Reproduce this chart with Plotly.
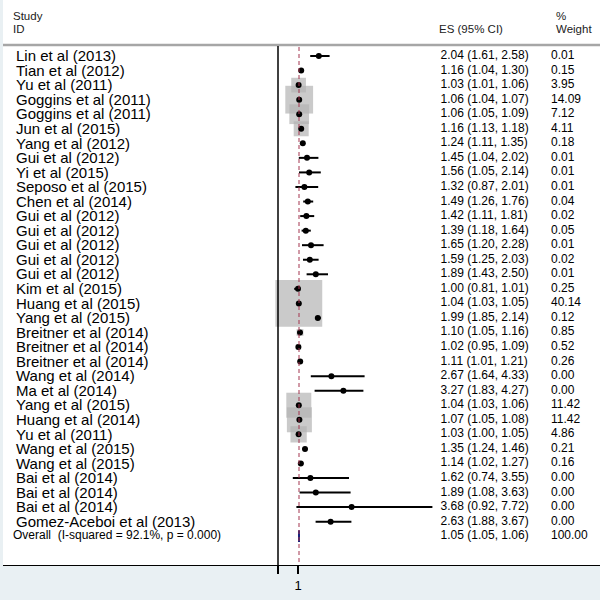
import plotly.graph_objects as go

studies = [
    "Lin et al (2013)", "Tian et al (2012)", "Yu et al (2011)", "Goggins et al (2011)",
    "Goggins et al (2011)", "Jun et al (2015)", "Yang et al (2012)", "Gui et al (2012)",
    "Yi et al (2015)", "Seposo et al (2015)", "Chen et al (2014)", "Gui et al (2012)",
    "Gui et al (2012)", "Gui et al (2012)", "Gui et al (2012)", "Gui et al (2012)",
    "Kim et al (2015)", "Huang et al (2015)", "Yang et al (2015)", "Breitner et al (2014)",
    "Breitner et al (2014)", "Breitner et al (2014)", "Wang et al (2014)", "Ma et al (2014)",
    "Yang et al (2015)", "Huang et al (2014)", "Yu et al (2011)", "Wang et al (2015)",
    "Wang et al (2015)", "Bai et al (2014)", "Bai et al (2014)", "Bai et al (2014)",
    "Gomez-Aceboi et al (2013)",
]
es = [2.04, 1.16, 1.03, 1.06, 1.06, 1.16, 1.24, 1.45, 1.56, 1.32, 1.49, 1.42, 1.39, 1.65,
      1.59, 1.89, 1.00, 1.04, 1.99, 1.10, 1.02, 1.11, 2.67, 3.27, 1.04, 1.07, 1.03, 1.35,
      1.14, 1.62, 1.89, 3.68, 2.63]
lower = [1.61, 1.04, 1.01, 1.04, 1.05, 1.13, 1.11, 1.04, 1.05, 0.87, 1.26, 1.11, 1.18, 1.20,
         1.25, 1.43, 0.81, 1.03, 1.85, 1.05, 0.95, 1.01, 1.64, 1.83, 1.03, 1.05, 1.00, 1.24,
         1.02, 0.74, 1.08, 0.92, 1.88]
upper = [2.58, 1.30, 1.06, 1.07, 1.09, 1.18, 1.35, 2.02, 2.14, 2.01, 1.76, 1.81, 1.64, 2.28,
         2.03, 2.50, 1.01, 1.05, 2.14, 1.16, 1.09, 1.21, 4.33, 4.27, 1.06, 1.08, 1.05, 1.46,
         1.27, 3.55, 3.63, 7.72, 3.67]
weights = [0.01, 0.15, 3.95, 14.09, 7.12, 4.11, 0.18, 0.01, 0.01, 0.01, 0.04, 0.02, 0.05, 0.01,
           0.02, 0.01, 0.25, 40.14, 0.12, 0.85, 0.52, 0.26, 0.00, 0.00, 11.42, 11.42, 4.86, 0.21,
           0.16, 0.00, 0.00, 0.00, 0.00]

overall_label = "Overall  (I-squared = 92.1%, p = 0.000)"
overall_es, overall_lo, overall_hi, overall_w = 1.05, 1.05, 1.06, 100.00

font = "Liberation Sans, Arial, sans-serif"
rows = list(range(len(studies)))
overall_row = len(studies)
x_range = [-13.75, 16.1]

fig = go.Figure()

# header rule
fig.add_trace(go.Scatter(
    x=x_range, y=[-0.76, -0.76], mode="lines",
    line=dict(color="#a6a6a6", width=2.5), hoverinfo="skip", showlegend=False,
    cliponaxis=False,
))

# weight boxes
fig.add_trace(go.Scatter(
    x=es, y=rows, mode="markers",
    marker=dict(symbol="square", size=[7.4 * w ** 0.5 for w in weights],
                color="#b3b3b3", line=dict(width=0)),
    hoverinfo="skip", showlegend=False,
))

# point estimates + CI
fig.add_trace(go.Scatter(
    x=es, y=rows, mode="markers",
    marker=dict(size=6, color="black"),
    error_x=dict(type="data", symmetric=False,
                 array=[u - e for u, e in zip(upper, es)],
                 arrayminus=[e - l for e, l in zip(es, lower)],
                 thickness=2, width=0, color="black"),
    showlegend=False,
))

# overall diamond
fig.add_trace(go.Scatter(
    x=[overall_lo, overall_es, overall_hi, overall_es, overall_lo],
    y=[overall_row, overall_row - 0.4, overall_row, overall_row + 0.4, overall_row],
    mode="lines", fill="toself", fillcolor="#1a237e",
    line=dict(color="#1a237e", width=2), showlegend=False, hoverinfo="skip",
))

# text columns
es_text = ["%.2f (%.2f, %.2f)" % t for t in zip(es, lower, upper)]
es_text.append("%.2f (%.2f, %.2f)" % (overall_es, overall_lo, overall_hi))
w_text = ["%.2f" % w for w in weights] + ["%.2f" % overall_w]

fig.add_trace(go.Scatter(
    x=[-13.1] * len(studies), y=[r + 0.1 for r in rows], mode="text", text=studies,
    textposition="middle right", textfont=dict(family=font, size=15, color="black"),
    cliponaxis=False, showlegend=False, hoverinfo="skip",
))
fig.add_trace(go.Scatter(
    x=[-13.25], y=[overall_row], mode="text", text=[overall_label],
    textposition="middle right", textfont=dict(family=font, size=12, color="black"),
    cliponaxis=False, showlegend=False, hoverinfo="skip",
))
fig.add_trace(go.Scatter(
    x=[8.13] * (len(studies) + 1), y=rows + [overall_row], mode="text", text=es_text,
    textposition="middle right", textfont=dict(family=font, size=12, color="black"),
    cliponaxis=False, showlegend=False, hoverinfo="skip",
))
fig.add_trace(go.Scatter(
    x=[13.65] * (len(studies) + 1), y=rows + [overall_row], mode="text", text=w_text,
    textposition="middle right", textfont=dict(family=font, size=12, color="black"),
    cliponaxis=False, showlegend=False, hoverinfo="skip",
))

# headers
headers = [("Study", -13.35, -2.75), ("ID", -13.35, -1.86), ("ES (95% CI)", 7.95, -1.86),
           ("%", 13.8, -2.75), ("Weight", 13.8, -1.86)]
for txt, hx, hy in headers:
    fig.add_annotation(x=hx, y=hy, xref="x", yref="y", text=txt, showarrow=False,
                       xanchor="left", yanchor="middle",
                       font=dict(family=font, size=11.5, color="#222"))

# null line and overall line
fig.add_shape(type="line", xref="x", yref="y", x0=0, x1=0, y0=-0.69, y1=34.98,
              line=dict(color="black", width=1.5))
fig.add_shape(type="line", xref="x", yref="y", x0=overall_es, x1=overall_es,
              y0=-0.62, y1=34.98, line=dict(color="#a3344e", width=1, dash="4px,3px"))

fig.update_layout(
    width=600, height=600,
    margin=dict(l=3, r=0, t=0, b=35),
    paper_bgcolor="#e9f0f3", plot_bgcolor="white",
    xaxis=dict(range=x_range, showgrid=False, zeroline=False,
               showline=True, linecolor="black", linewidth=1,
               tickvals=[0, 1], ticktext=["", "1"], ticks="outside", ticklen=8,
               tickcolor="black", tickwidth=1.5,
               tickfont=dict(family=font, size=13, color="black")),
    yaxis=dict(range=[34.98, -3.85], visible=False),
)

fig.write_html("out.html", config={"displayModeBar": False},
               post_script="document.body.style.margin='0px';")
